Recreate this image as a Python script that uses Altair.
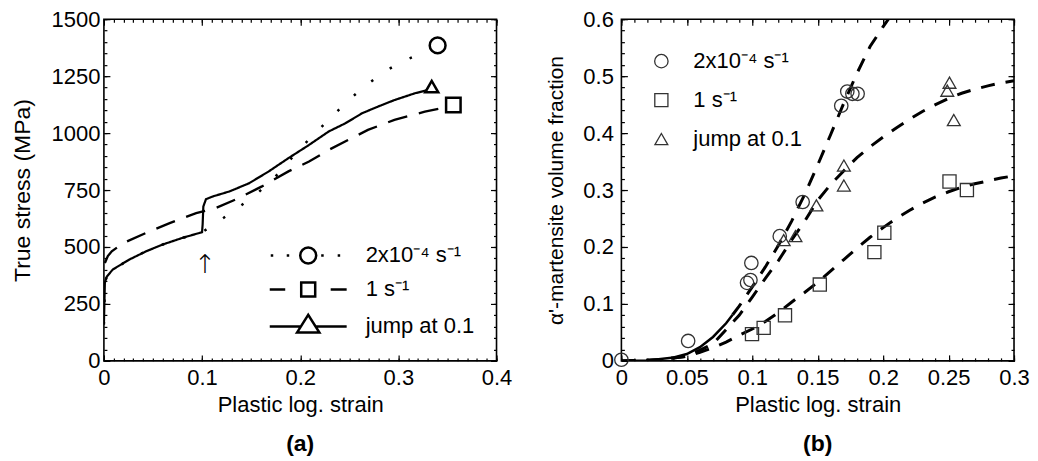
import altair as alt
import pandas as pd

FONT = "Liberation Sans"

labels = ["2x10⁻⁴ s⁻¹", "1 s⁻¹", "jump at 0.1"]

# ---------------- panel (a): true stress vs plastic strain ----------------
slow_x = [0.0, 0.001, 0.003, 0.009, 0.026, 0.043, 0.06, 0.08, 0.1, 0.112, 0.134,
          0.155, 0.175, 0.192, 0.209, 0.229, 0.246, 0.263, 0.283, 0.303, 0.327, 0.335]
slow_y = [160, 345, 370, 401, 445, 481, 511, 540, 565, 598, 664,
          730, 810, 894, 973, 1058, 1131, 1196, 1262, 1313, 1357, 1370]

fast_x = [0.001, 0.004, 0.008, 0.02, 0.043, 0.067, 0.094, 0.114, 0.134, 0.161,
          0.188, 0.209, 0.229, 0.249, 0.269, 0.296, 0.327, 0.345]
fast_y = [430, 460, 481, 518, 562, 605, 649, 671, 708, 766,
          832, 875, 926, 970, 1014, 1058, 1094, 1110]

jump_x = [0.0, 0.001, 0.003, 0.009, 0.026, 0.043, 0.06, 0.08, 0.1, 0.1006, 0.1013,
          0.104, 0.111, 0.128, 0.148, 0.168, 0.188, 0.209, 0.229, 0.246, 0.263,
          0.279, 0.296, 0.317, 0.33]
jump_y = [160, 345, 370, 401, 445, 481, 511, 540, 565, 600, 678,
          710, 722, 744, 780, 832, 890, 948, 1007, 1043, 1087,
          1116, 1145, 1175, 1189]

end_x = [0.340, 0.356, 0.334]
end_y = [1385, 1123, 1204]

arrow_x = [0.103]
arrow_y = [421]
arrow_txt = ["↑"]

xa_domain = [0, 0.4]
ya_domain = [0, 1500]
xa_major = [0, 0.1, 0.2, 0.3, 0.4]
xa_minor = [i / 100 for i in range(41)]
ya_major = [0, 250, 500, 750, 1000, 1250, 1500]
ya_minor = [i * 50 for i in range(31)]

# ---------------- panel (b): martensite fraction ----------------
circ_x = [0.0, 0.051, 0.096, 0.0986, 0.0993, 0.121, 0.1385, 0.168, 0.1726, 0.1765, 0.1805]
circ_y = [0.002, 0.035, 0.137, 0.142, 0.172, 0.219, 0.279, 0.448, 0.473, 0.469, 0.469]
sq_x = [0.0998, 0.1087, 0.125, 0.1516, 0.1933, 0.2009, 0.2507, 0.264]
sq_y = [0.047, 0.058, 0.080, 0.134, 0.191, 0.225, 0.315, 0.300]
tri_x = [0.124, 0.133, 0.149, 0.170, 0.170, 0.2507, 0.249, 0.254]
tri_y = [0.212, 0.219, 0.273, 0.343, 0.308, 0.4885, 0.4745, 0.423]

c1_x = [0, 0.02, 0.04, 0.05, 0.06, 0.07, 0.08, 0.085, 0.09, 0.1, 0.11, 0.12, 0.13,
        0.14, 0.15, 0.16, 0.17, 0.18, 0.19, 0.2, 0.204]
c1_y = [0, 0.0008, 0.006, 0.012, 0.024, 0.042, 0.066, 0.081, 0.096, 0.13, 0.165, 0.203,
        0.245, 0.292, 0.344, 0.398, 0.453, 0.505, 0.552, 0.587, 0.6]
c1_solid_end = 0.085

c2_x = [0, 0.03, 0.05, 0.07, 0.09, 0.1, 0.11, 0.12, 0.13, 0.14, 0.15, 0.16, 0.17, 0.18,
        0.19, 0.2, 0.21, 0.22, 0.23, 0.24, 0.25, 0.26, 0.27, 0.28, 0.29, 0.3]
c2_y = [0, 0.002, 0.008, 0.03, 0.08, 0.112, 0.145, 0.176, 0.212, 0.245, 0.282, 0.31,
        0.334, 0.357, 0.376, 0.393, 0.409, 0.424, 0.438, 0.450, 0.461, 0.470, 0.477,
        0.483, 0.488, 0.492]

c3_x = [0, 0.03, 0.05, 0.06, 0.07, 0.08, 0.09, 0.1, 0.11, 0.12, 0.13, 0.14, 0.15, 0.16,
        0.17, 0.18, 0.19, 0.2, 0.21, 0.22, 0.23, 0.24, 0.25, 0.26, 0.27, 0.28, 0.29, 0.3]
c3_y = [0, 0.002, 0.008, 0.015, 0.023, 0.033, 0.045, 0.056, 0.069, 0.085, 0.103, 0.12,
        0.138, 0.158, 0.178, 0.198, 0.217, 0.234, 0.25, 0.264, 0.277, 0.288, 0.297,
        0.305, 0.311, 0.316, 0.321, 0.325]

xb_domain = [0, 0.3]
yb_domain = [0, 0.6]
xb_major = [0, 0.05, 0.1, 0.15, 0.2, 0.25, 0.3]
xb_minor = [i / 100 for i in range(31)]
yb_major = [0, 0.1, 0.2, 0.3, 0.4, 0.5, 0.6]
yb_minor = [i / 50 for i in range(31)]

W, H = 393, 342
LABEL_EXPR = "format(datum.value, '~g')"

# ---------------- helpers ----------------
def tick_axis(orient, values, offset, size):
    return alt.Axis(orient=orient, values=values, offset=offset, ticks=True,
                    tickSize=size, tickColor="black", tickWidth=1.2, tickOpacity=1,
                    labels=False, domain=False, grid=False, title=None, zindex=2)


def tick_layers(df, xs, ys, xmaj, xmin, ymaj, ymin):
    out = []
    for xv, yv, size in [(xmaj, ymaj, 6), (xmin, ymin, 3)]:
        out.append(alt.Chart(df).mark_point(opacity=0).encode(
            x=alt.X("x:Q", scale=xs, axis=tick_axis("top", xv, -H, size)),
            y=alt.Y("y:Q", scale=ys, axis=tick_axis("right", yv, -W, size))))
        out.append(alt.Chart(df).mark_point(opacity=0).encode(
            x=alt.X("x:Q", scale=xs, axis=tick_axis("bottom", xv, -H, size)),
            y=alt.Y("y:Q", scale=ys, axis=tick_axis("left", yv, -W, size))))
    return out


def frame_layer(xd, yd, xs, ys):
    df = pd.DataFrame({"x": [xd[0]], "x2": [xd[1]], "y": [yd[0]], "y2": [yd[1]]})
    return alt.Chart(df).mark_rect(fill="transparent", stroke="black",
                                   strokeWidth=1.6).encode(
        x=alt.X("x:Q", scale=xs, axis=None), x2="x2:Q",
        y=alt.Y("y:Q", scale=ys, axis=None), y2="y2:Q")


def main_x(values, title):
    return alt.Axis(orient="bottom", values=values, labelExpr=LABEL_EXPR, ticks=False,
                    tickSize=0, domain=False, grid=False, labelFlush=False,
                    labelOverlap=False, labelFontSize=22, labelFont=FONT,
                    labelColor="black", labelPadding=7, title=title, titleFontSize=22,
                    titleFont=FONT, titleFontWeight="normal", titleColor="black",
                    titlePadding=6)


def main_y(values, title, lpad, tsize, tpad):
    return alt.Axis(orient="left", values=values, labelExpr=LABEL_EXPR, ticks=False,
                    tickSize=0, domain=False, grid=False, labelFlush=False,
                    labelOverlap=False, labelFontSize=22, labelFont=FONT,
                    labelColor="black", labelPadding=lpad, title=title,
                    titleFontSize=tsize, titleFont=FONT, titleFontWeight="normal",
                    titleColor="black", titlePadding=tpad)


# ---------------- build panel (a) ----------------
rows = []
for name, xs_, ys_ in zip(labels, [slow_x, fast_x, jump_x], [slow_y, fast_y, jump_y]):
    for i, (a, b) in enumerate(zip(xs_, ys_)):
        rows.append({"x": a, "y": b, "series": name, "i": i})
df_a = pd.DataFrame(rows)
df_end = pd.DataFrame({"x": end_x, "y": end_y, "series": labels})
df_arrow = pd.DataFrame({"x": arrow_x, "y": arrow_y, "t": arrow_txt})
df_leg_a = pd.DataFrame({"series": labels})

xs_a = alt.Scale(domain=xa_domain, nice=False, zero=False)
ys_a = alt.Scale(domain=ya_domain, nice=False, zero=False)

lines_a = alt.Chart(df_a).mark_line(color="black", clip=True).encode(
    x=alt.X("x:Q", scale=xs_a, axis=main_x(xa_major, "Plastic log. strain")),
    y=alt.Y("y:Q", scale=ys_a, axis=main_y(ya_major, "True stress (MPa)", 4, 23, 17)),
    strokeDash=alt.StrokeDash("series:N", scale=alt.Scale(domain=labels,
                              range=[[2.5, 20], [20, 12], [1, 0]]), legend=None),
    strokeWidth=alt.StrokeWidth("series:N", scale=alt.Scale(domain=labels,
                                range=[2.5, 2.2, 2.5]), legend=None),
    order="i:Q",
)

ends_a = alt.Chart(df_end).mark_point(filled=True, fill="white", stroke="black",
                                      strokeWidth=2.5, opacity=1).encode(
    x=alt.X("x:Q", scale=xs_a, axis=None), y=alt.Y("y:Q", scale=ys_a, axis=None),
    shape=alt.Shape("series:N", scale=alt.Scale(domain=labels,
                    range=["circle", "square", "triangle-up"]), legend=None),
    size=alt.Size("series:N", scale=alt.Scale(domain=labels, range=[250, 170, 300]),
                  legend=None),
)

arrow_a = alt.Chart(df_arrow).mark_text(fontSize=26, font="DejaVu Sans", color="black",
                                        fontWeight=200).encode(
    x=alt.X("x:Q", scale=xs_a, axis=None), y=alt.Y("y:Q", scale=ys_a, axis=None),
    text="t:N")

# legend glyphs: line style + marker, in symbol units (size 400 -> 10 px per unit)
legend_paths = [
    "M-3.75,0h0.25M-2.15,0h0.25M1.3,0h0.25M2.95,0h0.25"
    "M-0.8,0a0.8,0.8 0 1,0 1.6,0a0.8,0.8 0 1,0 -1.6,0",
    "M-3.85,0H-2.3M2.25,0H3.85M-0.7,-0.7h1.4v1.4h-1.4z",
    "M-3.85,0H-0.73M0.73,0H3.85M-1.12,0.62L0,-1.15L1.12,0.62Z",
]
legend_a = alt.Chart(df_leg_a).transform_filter("false").mark_point(
    filled=False, stroke="black", strokeWidth=2.5, opacity=1).encode(
    shape=alt.Shape("series:N", scale=alt.Scale(domain=labels, range=legend_paths),
                    legend=alt.Legend(title=None, orient="none", legendX=193, legendY=225,
                                      symbolSize=400, symbolStrokeWidth=2.5,
                                      symbolStrokeColor="black",
                                      symbolFillColor="transparent", symbolOpacity=1,
                                      labelFontSize=22, labelFont=FONT, labelColor="black",
                                      labelOffset=46, rowPadding=8, padding=0,
                                      labelLimit=300)),
)

panel_a = alt.layer(
    *tick_layers(df_a, xs_a, ys_a, xa_major, xa_minor, ya_major, ya_minor),
    frame_layer(xa_domain, ya_domain, xs_a, ys_a),
    lines_a, ends_a, arrow_a, legend_a,
).resolve_scale(shape="independent", size="independent").resolve_axis(
    x="independent", y="independent").properties(
    width=W, height=H,
    title=alt.TitleParams("(a)", orient="bottom", anchor="middle", frame="group",
                          fontSize=23, fontWeight="bold", font=FONT, color="black",
                          offset=17))

# ---------------- build panel (b) ----------------
pts = []
for name, xs_, ys_ in zip(labels, [circ_x, sq_x, tri_x], [circ_y, sq_y, tri_y]):
    for a, b in zip(xs_, ys_):
        pts.append({"x": a, "y": b, "series": name})
df_pts = pd.DataFrame(pts)

crv = []
for name, xs_, ys_ in zip(["c1", "c2", "c3"], [c1_x, c2_x, c3_x], [c1_y, c2_y, c3_y]):
    for i, (a, b) in enumerate(zip(xs_, ys_)):
        if name == "c1" and a < c1_solid_end:
            continue
        crv.append({"x": a, "y": b, "curve": name, "i": i})
df_crv = pd.DataFrame(crv)
df_solid = pd.DataFrame({"x": [a for a in c1_x if a <= c1_solid_end],
                         "y": [b for a, b in zip(c1_x, c1_y) if a <= c1_solid_end]})

xs_b = alt.Scale(domain=xb_domain, nice=False, zero=False)
ys_b = alt.Scale(domain=yb_domain, nice=False, zero=False)

dashed_b = alt.Chart(df_crv).mark_line(color="black", strokeWidth=3,
                                       strokeDash=[14, 11], clip=True).encode(
    x=alt.X("x:Q", scale=xs_b, axis=main_x(xb_major, "Plastic log. strain")),
    y=alt.Y("y:Q", scale=ys_b, axis=main_y(yb_major, "α'-martensite volume fraction",
                                          8, 21, 16)),
    detail="curve:N", order="i:Q")

solid_b = alt.Chart(df_solid).mark_line(color="black", strokeWidth=2.5, clip=True).encode(
    x=alt.X("x:Q", scale=xs_b, axis=None), y=alt.Y("y:Q", scale=ys_b, axis=None))

leg_b = alt.Legend(title=None, orient="none", legendX=29, legendY=31,
                   labelFontSize=22, labelFont=FONT, labelColor="black", labelOffset=21,
                   rowPadding=17, padding=0, symbolStrokeColor="#333",
                   symbolFillColor="transparent", symbolOpacity=1,
                   symbolStrokeWidth=1.3, labelLimit=300)
points_b = alt.Chart(df_pts).mark_point(filled=False, stroke="#333", strokeWidth=1.3,
                                        opacity=1).encode(
    x=alt.X("x:Q", scale=xs_b, axis=None), y=alt.Y("y:Q", scale=ys_b, axis=None),
    shape=alt.Shape("series:N", scale=alt.Scale(domain=labels,
                    range=["circle", "square", "triangle-up"]), legend=leg_b),
    size=alt.Size("series:N", scale=alt.Scale(domain=labels, range=[180, 165, 400]),
                  legend=leg_b),
)

panel_b = alt.layer(
    *tick_layers(df_pts, xs_b, ys_b, xb_major, xb_minor, yb_major, yb_minor),
    frame_layer(xb_domain, yb_domain, xs_b, ys_b),
    dashed_b, solid_b, points_b,
).resolve_axis(x="independent", y="independent").properties(
    width=W, height=H,
    title=alt.TitleParams("(b)", orient="bottom", anchor="middle", frame="group",
                          fontSize=23, fontWeight="bold", font=FONT, color="black",
                          offset=17))

chart = alt.hconcat(panel_a, panel_b, spacing=33).resolve_scale(
    shape="independent", size="independent", strokeDash="independent",
    strokeWidth="independent").resolve_legend(
    shape="independent", size="independent").properties(
    padding={"left": 3, "top": 0, "right": 0, "bottom": 0}
).configure(font=FONT).configure_view(stroke=None)

chart.save("out.html", embed_options={"renderer": "svg", "actions": False})
